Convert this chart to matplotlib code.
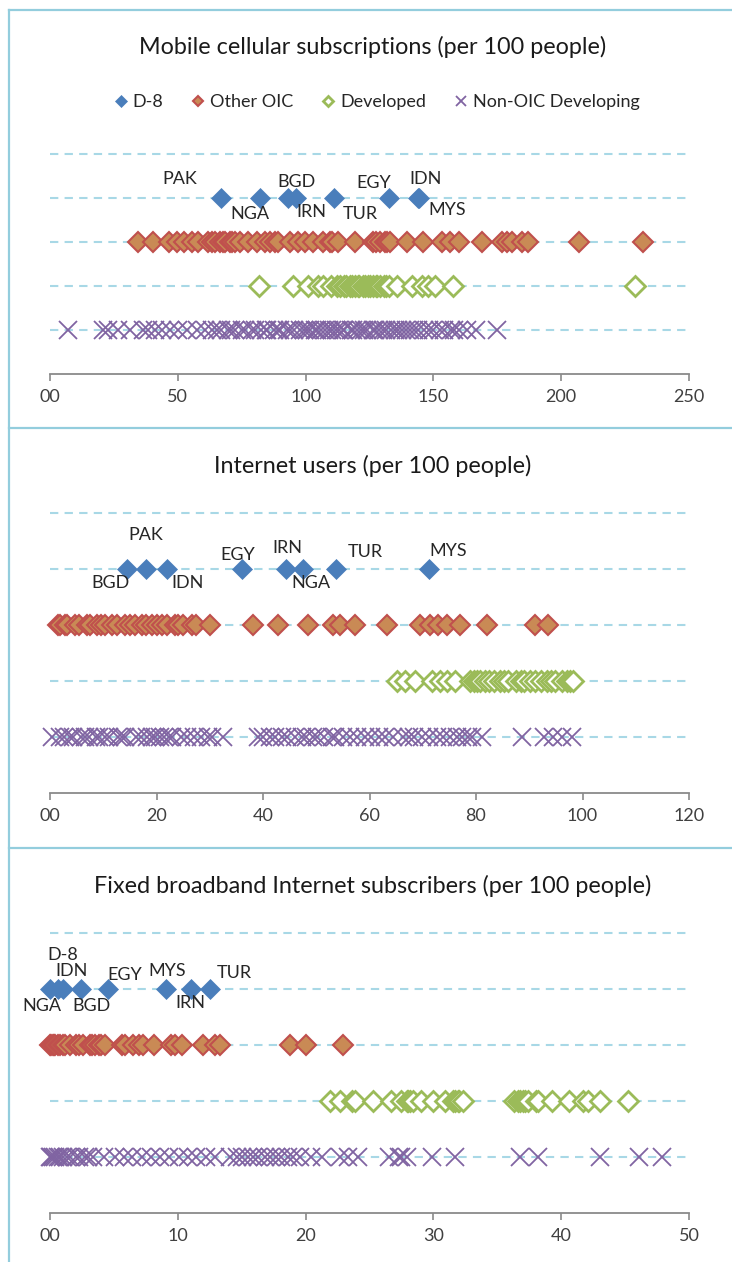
import matplotlib.pyplot as plt
from matplotlib.lines import Line2D
import numpy as np

plt.rcParams['font.family'] = 'Lato'

# ---- data ----
series_names = ['D-8', 'Other OIC', 'Developed', 'Non-OIC Developing']

# Mobile cellular subscriptions (per 100 people)
mobile_d8_names = ['PAK', 'NGA', 'BGD', 'IRN', 'TUR', 'EGY', 'IDN', 'MYS']
mobile_d8 = [66.9, 82.2, 93.1, 96.2, 111.1, 132.6, 144.0, 144.2]
mobile_oic = [34.4, 40.3, 46.6, 49.7, 52.4, 55.5, 58.0, 61.8, 63.2, 64.6, 66.5, 67.5,
              68.5, 70.4, 71.2, 72.4, 74.3, 77.5, 81.0, 84.0, 86.1, 88.0, 89.2, 93.9,
              97.0, 99.8, 103.0, 106.8, 109.5, 110.5, 112.7, 119.3, 126.4, 127.5, 129.1,
              131.0, 131.8, 133.0, 139.7, 145.9, 153.4, 156.5, 160.0, 169.0, 176.8,
              178.8, 180.8, 184.7, 187.0, 207.0, 232.0]
mobile_dev = [81.8, 95.1, 100.9, 104.9, 106.8, 110.0, 112.1, 113.4, 115.2, 116.0,
              117.3, 118.1, 119.2, 120.4, 121.0, 122.3, 123.1, 124.5, 125.0, 126.2,
              127.4, 128.0, 129.3, 130.5, 131.6, 132.8, 135.8, 141.6, 145.5, 147.9,
              150.6, 157.7, 228.9]
mobile_nonoic = [7.0, 20.7, 22.7, 26.6, 31.3, 36.4, 38.3, 41.1, 43.8, 46.9, 50.1, 53.6,
                 57.5, 60.6, 63.4, 65.2, 66.8, 69.5, 71.0, 72.4, 75.1, 76.3, 78.9, 80.2,
                 82.7, 84.4, 85.0, 87.6, 89.3, 90.1, 92.8, 94.0, 95.5, 97.9, 99.2, 100.4,
                 101.6, 103.8, 104.3, 106.1, 107.7, 109.0, 110.3, 111.9, 113.0, 114.6,
                 115.2, 117.8, 118.5, 120.1, 121.7, 122.9, 124.0, 126.3, 127.1, 128.8,
                 130.2, 131.5, 133.4, 134.9, 136.0, 137.7, 139.3, 141.0, 142.6, 144.1,
                 146.5, 148.2, 150.0, 152.7, 154.3, 156.9, 158.1, 160.2, 163.0, 166.7,
                 174.9]

# Internet users (per 100 people)
internet_d8_names = ['BGD', 'PAK', 'IDN', 'EGY', 'IRN', 'NGA', 'TUR', 'MYS']
internet_d8 = [14.5, 18.0, 22.0, 36.0, 44.3, 47.6, 53.7, 71.1]
internet_oic = [1.5, 1.9, 2.8, 3.2, 4.7, 5.5, 6.9, 7.5, 8.8, 9.5, 10.3, 11.6, 12.5,
                14.0, 15.0, 16.0, 17.2, 18.0, 19.1, 20.0, 21.0, 22.0, 23.5, 24.0, 25.0,
                26.7, 27.5, 30.0, 38.2, 42.9, 48.5, 53.2, 54.5, 57.3, 63.2, 69.5, 71.4,
                72.9, 74.5, 77.0, 82.0, 91.1, 93.6]
internet_dev = [65.1, 66.7, 68.5, 71.7, 73.2, 74.5, 76.1, 78.9, 79.6, 80.1, 80.8,
                81.7, 82.5, 83.3, 84.5, 85.2, 86.0, 87.6, 88.4, 89.1, 90.1, 91.0,
                92.3, 93.3, 94.0, 94.8, 96.1, 97.0, 97.6, 98.3]
internet_nonoic = [0.4, 1.9, 2.6, 3.8, 4.4, 5.9, 6.5, 7.3, 8.6, 9.2, 10.4, 11.0, 12.7,
                   13.5, 14.1, 16.2, 17.0, 18.3, 19.1, 19.8, 20.6, 21.4, 22.3, 23.0,
                   24.6, 25.8, 27.1, 28.3, 29.6, 30.4, 32.5, 39.1, 40.0, 41.3, 42.2,
                   43.6, 44.5, 46.0, 47.3, 48.1, 49.4, 50.2, 51.5, 52.9, 53.6, 55.0,
                   56.4, 57.7, 59.1, 60.3, 61.8, 63.0, 64.4, 66.2, 67.5, 68.3, 69.9,
                   71.2, 72.6, 73.8, 75.1, 76.4, 77.3, 78.5, 79.2, 81.1, 88.6, 92.8,
                   94.5, 96.2, 98.0]

# Fixed broadband Internet subscribers (per 100 people)
broadband_d8_names = ['NGA', 'D-8', 'IDN', 'BGD', 'EGY', 'MYS', 'IRN', 'TUR']
broadband_d8 = [0.0, 0.6, 1.04, 2.43, 4.56, 9.05, 11.0, 12.5]
broadband_oic = [0.0, 0.1, 0.2, 0.3, 0.4, 0.6, 0.8, 1.0, 1.2, 1.6, 2.0, 2.3, 2.6, 3.1,
                 3.3, 3.5, 3.8, 4.0, 4.3, 5.6, 5.9, 6.5, 7.0, 7.3, 8.1, 9.5, 9.8, 10.3,
                 12.0, 12.9, 13.3, 18.8, 20.0, 22.95]
broadband_dev = [21.9, 22.7, 23.6, 23.9, 25.3, 26.7, 27.5, 27.9, 28.0, 28.2, 28.4,
                 29.0, 30.0, 30.9, 31.5, 31.7, 31.9, 32.0, 32.3, 36.3, 36.6, 36.8,
                 37.0, 37.2, 37.4, 38.0, 38.2, 39.3, 40.6, 41.7, 42.1, 43.0, 45.2]
broadband_nonoic = [0.0, 0.1, 0.2, 0.4, 0.6, 0.8, 1.0, 1.3, 1.6, 2.0, 2.3, 2.7, 3.0,
                    3.4, 4.2, 5.1, 5.8, 6.4, 7.2, 7.9, 8.6, 9.3, 10.1, 10.8, 11.4,
                    12.2, 12.9, 14.1, 14.6, 15.0, 15.5, 15.9, 16.3, 16.8, 17.2, 17.7,
                    18.1, 18.6, 19.0, 19.6, 20.4, 21.3, 22.7, 23.3, 24.1, 26.5, 27.3,
                    27.5, 27.9, 29.9, 31.7, 36.8, 38.2, 43.0, 46.1, 47.9]

# ---- styling ----
blue = '#4a7ebb'
red_edge = '#c0504d'
orange_face = '#c98a55'
green = '#9bbb59'
purple = '#8064a2'
grid_col = '#a8d8e6'
border_col = '#93cddd'
axis_col = '#8a8a8a'

fig = plt.figure(figsize=(7.32, 12.62), dpi=100)
W, H = 732, 1262

panels = [
    dict(title='Mobile cellular subscriptions (per 100 people)', title_y=47,
         y0=374, unit=44, xmax=250, ticks=[0, 50, 100, 150, 200, 250],
         ticklabels=['00', '50', '100', '150', '200', '250'],
         d8=mobile_d8, names=mobile_d8_names, oic=mobile_oic, dev=mobile_dev,
         non=mobile_nonoic,
         offsets=[(-41, 19), (-10, -16), (9, 16), (15, -14), (26, -16), (-15, 15),
                  (7, 19), (29, -12)]),
    dict(title='Internet users (per 100 people)', title_y=466,
         y0=793, unit=56, xmax=120, ticks=[0, 20, 40, 60, 80, 100, 120],
         ticklabels=['00', '20', '40', '60', '80', '100', '120'],
         d8=internet_d8, names=internet_d8_names, oic=internet_oic, dev=internet_dev,
         non=internet_nonoic,
         offsets=[(-17, -14), (0, 34), (20, -14), (-4, 14), (1, 21), (7, -14),
                  (29, 17), (20, 18)]),
    dict(title='Fixed broadband Internet subscribers (per 100 people)', title_y=886,
         y0=1213, unit=56, xmax=50, ticks=[0, 10, 20, 30, 40, 50],
         ticklabels=['00', '10', '20', '30', '40', '50'],
         d8=broadband_d8, names=broadband_d8_names, oic=broadband_oic,
         dev=broadband_dev, non=broadband_nonoic,
         offsets=[(-8, -17), (5, 34), (8, 18), (10, -17), (16, 14), (2, 18), (0, -14),
                  (25, 16)]),
]

ytop = 5.4
for i, p in enumerate(panels):
    height_px = ytop * p['unit']
    ax = fig.add_axes([50 / W, 1 - p['y0'] / H, 639 / W, height_px / H])
    ax.set_xlim(0, p['xmax'])
    ax.set_ylim(0, ytop)

    ax.set_yticks([1, 2, 3, 4, 5])
    ax.yaxis.grid(True, color=grid_col, lw=1.5, ls=(0, (4, 3)))
    ax.tick_params(axis='y', left=False, labelleft=False)
    ax.set_axisbelow(True)

    for s in ['top', 'right', 'left']:
        ax.spines[s].set_visible(False)
    ax.spines['bottom'].set_color(axis_col)
    ax.spines['bottom'].set_linewidth(1.3)
    ax.set_xticks(p['ticks'])
    ax.set_xticklabels(p['ticklabels'])
    ax.tick_params(axis='x', direction='out', length=5, width=1.2, color=axis_col,
                   labelsize=13, labelcolor='#404040', pad=6)

    ax.plot(p['non'], np.full(len(p['non']), 1), ls='none', marker='x', ms=13,
            mew=1.3, color=purple, clip_on=False, label=series_names[3])
    ax.plot(p['dev'], np.full(len(p['dev']), 2), ls='none', marker='D', ms=10,
            mew=2.0, mec=green, mfc='white', clip_on=False, label=series_names[2])
    ax.plot(p['oic'], np.full(len(p['oic']), 3), ls='none', marker='D', ms=10,
            mew=1.5, mec=red_edge, mfc=orange_face, clip_on=False,
            label=series_names[1])
    ax.plot(p['d8'], np.full(len(p['d8']), 4), ls='none', marker='D', ms=10.5,
            mew=0.5, mec=blue, mfc=blue, clip_on=False, label=series_names[0])

    for name, val, (dx, dy) in zip(p['names'], p['d8'], p['offsets']):
        ax.annotate(name, (val, 4), xytext=(dx * 0.72, dy * 0.72),
                    textcoords='offset points', ha='center', va='center',
                    fontsize=13, color='#262626')

    fig.text(373 / W, 1 - p['title_y'] / H, p['title'], ha='center', va='center',
             fontsize=16.8, color='#1a1a1a')

    if i == 0:
        handles, labels = ax.get_legend_handles_labels()
        order = [3, 2, 1, 0]
        ax.legend([handles[k] for k in order], [labels[k] for k in order],
                  loc='center', bbox_to_anchor=(377 / W, 1 - 102 / H),
                  bbox_transform=fig.transFigure, ncol=4, frameon=False,
                  markerscale=0.55, handlelength=0.7, handletextpad=0.3,
                  columnspacing=1.6, fontsize=13, labelcolor='#262626')

# panel borders
fig.add_artist(Line2D([9 / W, 9 / W], [0, 1 - 10 / H], transform=fig.transFigure,
                      color=border_col, lw=1.6))
for yb in [10, 428, 848]:
    fig.add_artist(Line2D([9 / W, 1], [1 - yb / H, 1 - yb / H],
                          transform=fig.transFigure, color=border_col, lw=1.6))

fig.savefig('out.png', dpi=100)
